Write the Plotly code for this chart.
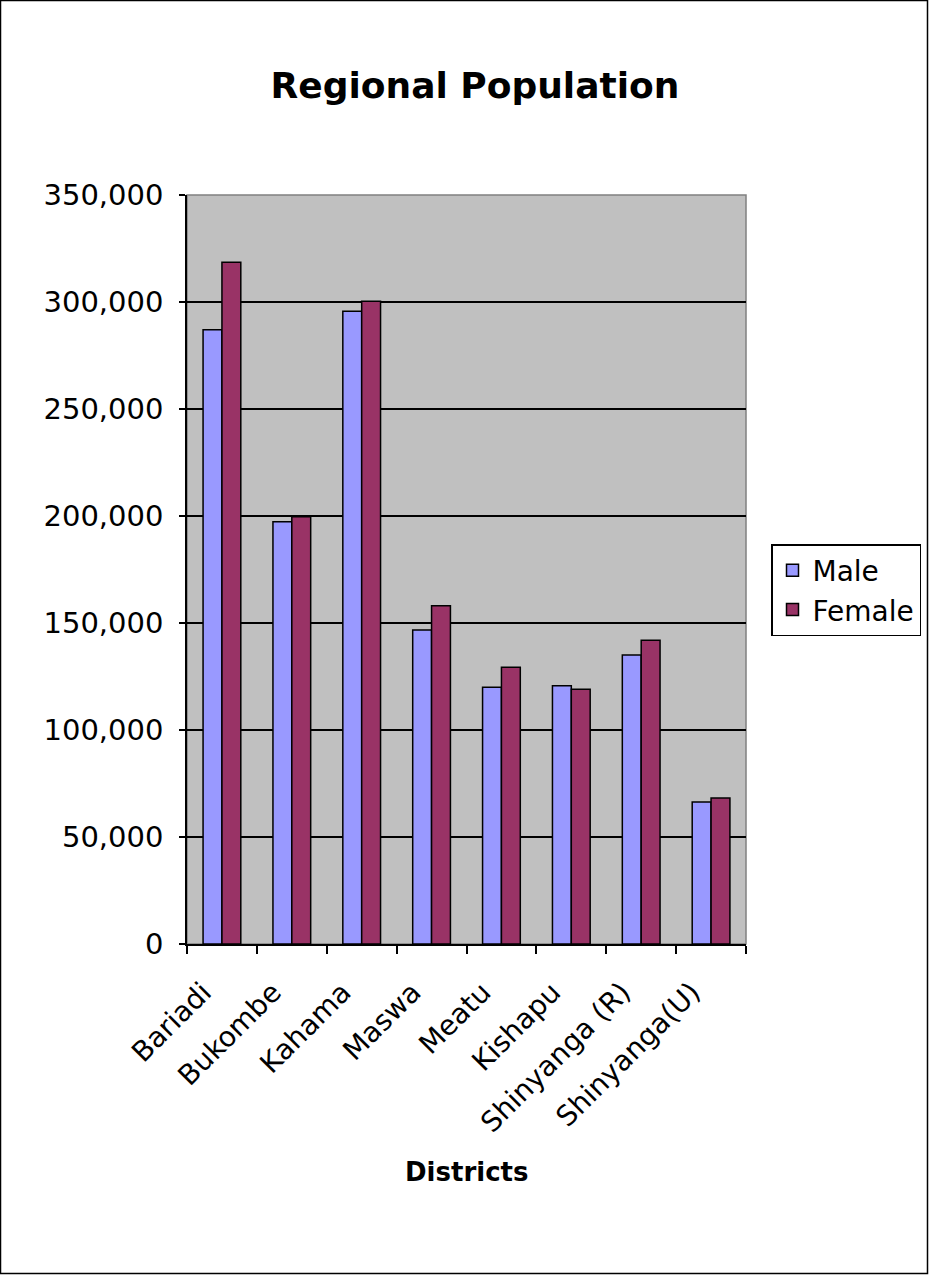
import plotly.graph_objects as go

districts = ["Bariadi", "Bukombe", "Kahama", "Maswa", "Meatu", "Kishapu", "Shinyanga (R)", "Shinyanga(U)"]
male = [287000, 197300, 295700, 146700, 120000, 120700, 135000, 66400]
female = [318600, 199700, 300300, 158100, 129300, 119000, 141900, 68200]
y_ticks = [0, 50000, 100000, 150000, 200000, 250000, 300000, 350000]

W, H = 929, 1275
L, R, T, B = 187, 746, 195, 944
pw, ph = R - L, B - T

FONT = "DejaVu Sans, Arial, sans-serif"

fig = go.Figure()
fig.add_trace(go.Bar(name="Male", x=districts, y=male,
                     marker=dict(color="#9999FF", line=dict(color="black", width=1.5))))
fig.add_trace(go.Bar(name="Female", x=districts, y=female,
                     marker=dict(color="#993366", line=dict(color="black", width=1.5))))

fig.update_layout(
    width=W, height=H,
    margin=dict(l=L, r=W - R, t=T, b=H - B, autoexpand=False),
    paper_bgcolor="white", plot_bgcolor="#C0C0C0",
    barmode="group", bargap=0.46, bargroupgap=0,
    font=dict(family=FONT, color="black", size=28),
    title=dict(text="<b>Regional Population</b>", x=475 / W, xanchor="center",
               y=1 - 85 / H, yanchor="middle", yref="container",
               font=dict(size=36, family=FONT, color="black")),
    legend=dict(x=(771 - L) / pw, xanchor="left", y=(B - 590) / ph, yanchor="middle",
                bordercolor="black", borderwidth=1.5, bgcolor="white",
                font=dict(size=28, family=FONT), itemwidth=30, tracegroupgap=0),
    showlegend=True,
)
fig.update_xaxes(
    type="category", showline=True, linecolor="black", linewidth=1.5,
    ticks="outside", tickson="boundaries", ticklen=8, tickcolor="black", tickwidth=1.5,
    tickangle=-45, tickfont=dict(size=28, family=FONT), showgrid=False, mirror=False,
    tickmode="array", tickvals=districts,
    ticktext=[d + "\u00a0\u00a0\u00a0" for d in districts],
    ticklabelstandoff=0,
)
fig.update_yaxes(
    range=[0, 350000], tickvals=y_ticks, tickformat=",d",
    showline=True, linecolor="black", linewidth=1.5,
    ticks="outside", ticklen=6, tickcolor="black", tickwidth=1.5,
    showgrid=True, gridcolor="black", gridwidth=1.5, zeroline=False,
    tickfont=dict(size=29, family=FONT), ticklabelstandoff=10,
)
# plot area right/top border (gray)
fig.add_shape(type="rect", xref="paper", yref="paper", x0=0, x1=1, y0=0, y1=1,
              line=dict(color="#808080", width=1.5), layer="below")
# outer chart border
fig.add_shape(type="rect", xref="paper", yref="paper",
              x0=(0.5 - L) / pw, x1=(W - 1.5 - L) / pw,
              y0=(B - (H - 1.5)) / ph, y1=(B - 0.5) / ph,
              line=dict(color="black", width=1.5))
fig.add_annotation(text="<b>Districts</b>", xref="paper", yref="paper",
                   x=(466 - L) / pw, y=(B - 1172) / ph, xanchor="center", yanchor="middle",
                   showarrow=False, font=dict(size=26, family=FONT, color="black"))

fig.write_html("out.html")
